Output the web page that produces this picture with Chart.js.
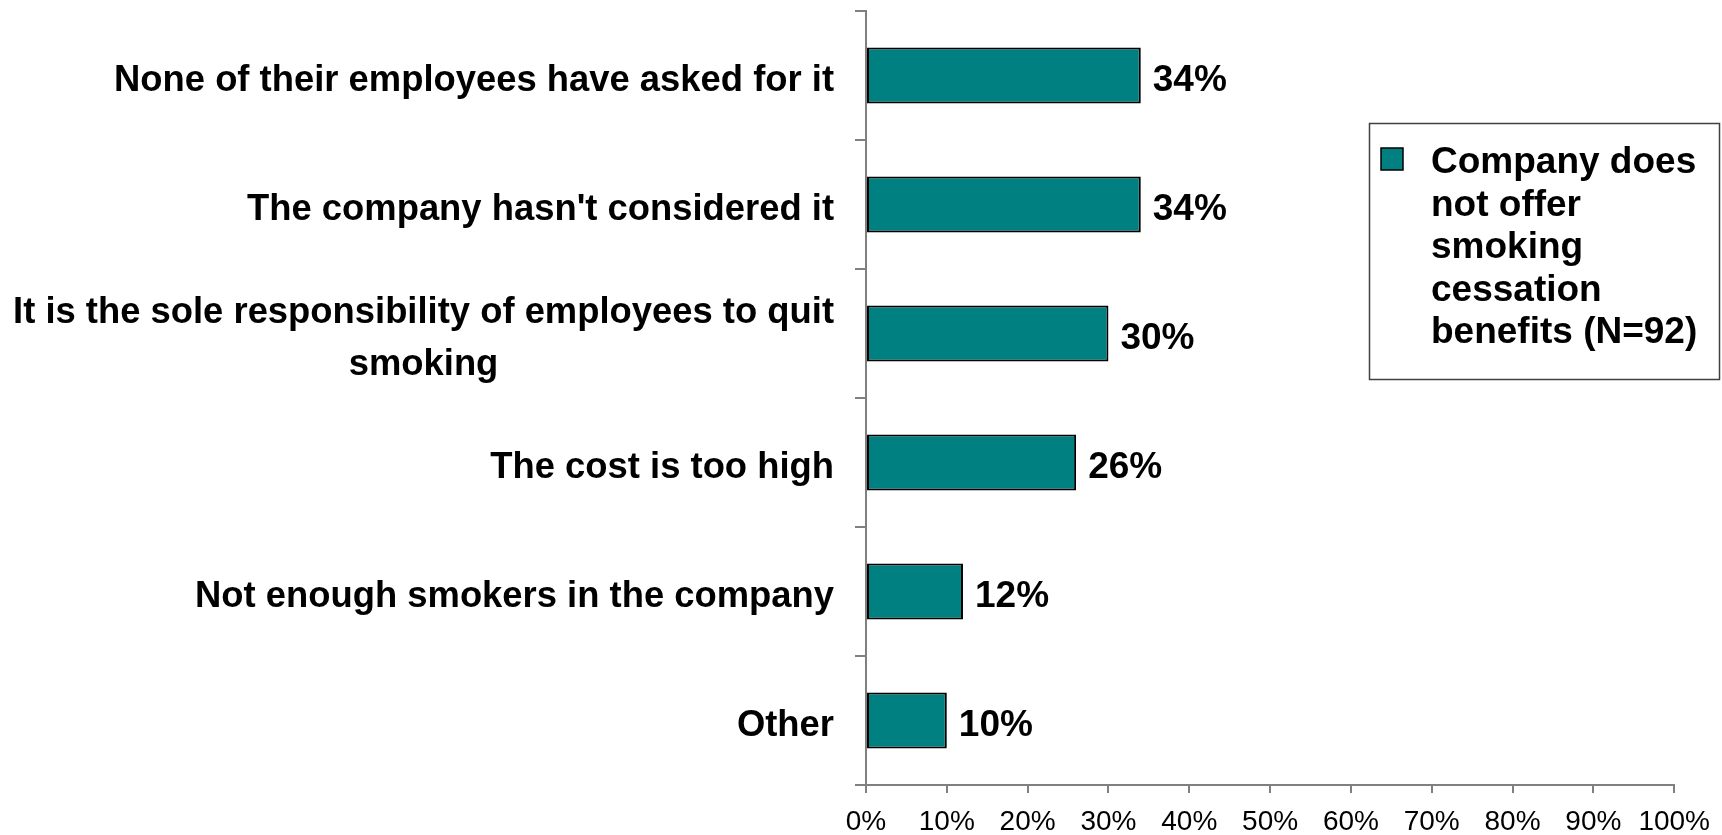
<!DOCTYPE html>
<html>
<head>
<meta charset="utf-8">
<script src="https://cdn.jsdelivr.net/npm/chart.js@4.4.1/dist/chart.umd.min.js"></script>
<style>
  html, body { margin: 0; padding: 0; background: #fff; }
  canvas { display: block; }
</style>
</head>
<body>
<canvas id="myChart" width="1722" height="835"></canvas>
<script>
// reasons given, one entry per bar (arrays = forced line breaks)
const reasons = [
  "None of their employees have asked for it",
  "The company hasn't considered it",
  ["It is the sole responsibility of employees to quit", "smoking"],
  "The cost is too high",
  "Not enough smokers in the company",
  "Other"
];
const percents = [34, 34, 30, 26, 12, 10];
const seriesLabel = "Company does not offer smoking cessation benefits (N=92)";
const xTicks = [0, 10, 20, 30, 40, 50, 60, 70, 80, 90, 100];

const TEAL = "#008080";
const AXIS = "#808080";
const BOLD = "bold 37px 'Liberation Sans', Arial, sans-serif";
const CAT_FONT = "bold 36.4px 'Liberation Sans', Arial, sans-serif";

//////////////////////// CATEGORY LABELS (right block, centred lines) ////////////////////////
const categoryLabels = {
  id: "categoryLabels",
  afterDraw(chart) {
    const ctx = chart.ctx;
    const y = chart.scales.y;
    const right = chart.chartArea.left - 32;
    const lineH = 52;
    ctx.save();
    ctx.font = CAT_FONT;
    ctx.fillStyle = "#000";
    ctx.textBaseline = "middle";
    ctx.textAlign = "center";
    reasons.forEach((r, i) => {
      const lines = Array.isArray(r) ? r : [r];
      const w = Math.max(...lines.map((l) => ctx.measureText(l).width));
      const cx = right - w / 2;
      const cy = y.getPixelForValue(i) + 5;
      lines.forEach((l, k) => {
        ctx.fillText(l, cx, cy + (k - (lines.length - 1) / 2) * lineH);
      });
    });
    ctx.restore();
  }
};

//////////////////////// VALUE LABELS AT BAR ENDS ////////////////////////
const valueLabels = {
  id: "valueLabels",
  afterDatasetsDraw(chart) {
    const ctx = chart.ctx;
    const meta = chart.getDatasetMeta(0);
    ctx.save();
    ctx.font = BOLD;
    ctx.fillStyle = "#000";
    ctx.textBaseline = "middle";
    ctx.textAlign = "left";
    meta.data.forEach((bar, i) => {
      ctx.fillText(chart.data.datasets[0].data[i] + "%", bar.x + 12, bar.y + 5);
    });
    ctx.restore();
  }
};

//////////////////////// BOXED LEGEND INSIDE PLOT ////////////////////////
const boxLegend = {
  id: "boxLegend",
  afterDraw(chart) {
    const ctx = chart.ctx;
    const ds = chart.data.datasets[0];
    const bx = 1369, by = 123, bw = 350, bh = 256;
    ctx.save();
    ctx.fillStyle = "#fff";
    ctx.fillRect(bx, by, bw, bh);
    ctx.strokeStyle = "#404040";
    ctx.lineWidth = 1.5;
    ctx.strokeRect(bx + 0.5, by + 0.5, bw, bh);

    // wrap the series name
    ctx.font = BOLD;
    const words = ds.label.split(" ");
    const lines = [];
    let cur = "";
    words.forEach((w) => {
      const t = cur ? cur + " " + w : w;
      if (ctx.measureText(t).width > 290 && cur) {
        lines.push(cur);
        cur = w;
      } else {
        cur = t;
      }
    });
    lines.push(cur);

    const tx = 1431, ty = 163, lh = 42.5;
    ctx.fillStyle = ds.backgroundColor;
    ctx.fillRect(1381, 148, 22, 22);
    ctx.strokeStyle = "#000";
    ctx.lineWidth = 1.5;
    ctx.strokeRect(1381, 148, 22, 22);

    ctx.fillStyle = "#000";
    ctx.textBaseline = "middle";
    ctx.textAlign = "left";
    lines.forEach((l, k) => ctx.fillText(l, tx, ty + k * lh));
    ctx.restore();
  }
};

const data = {
  labels: reasons,
  datasets: [{
    label: seriesLabel,
    data: percents,
    backgroundColor: TEAL,
    borderColor: "#000",
    borderWidth: 2,
    borderSkipped: false,
    categoryPercentage: 1,
    barPercentage: 0.435
  }]
};

const config = {
  type: "bar",
  data: data,
  options: {
    indexAxis: "y",
    responsive: false,
    animation: false,
    devicePixelRatio: 1,
    layout: { padding: { left: 0, top: 11, right: 44, bottom: 0 } },
    plugins: {
      legend: { display: false },
      tooltip: { enabled: false }
    },
    scales: {
      y: {
        type: "category",
        grid: {
          offset: true,
          drawOnChartArea: false,
          drawTicks: true,
          tickLength: 11,
          color: AXIS,
          lineWidth: 2
        },
        border: { color: AXIS, width: 2 },
        ticks: { display: false },
        afterFit: (s) => { s.width = 866; }
      },
      x: {
        min: xTicks[0],
        max: xTicks[xTicks.length - 1],
        afterBuildTicks: (s) => { s.ticks = xTicks.map((v) => ({ value: v })); },
        grid: {
          drawOnChartArea: false,
          drawTicks: true,
          tickLength: 8,
          color: AXIS,
          lineWidth: 2
        },
        border: { color: AXIS, width: 2 },
        ticks: {
          color: "#000",
          padding: 12,
          maxRotation: 0,
          font: { family: "'Liberation Sans Narrow', 'Arial Narrow', sans-serif", size: 28 },
          callback: (v) => v + "%"
        },
        afterFit: (s) => { s.height = 50; }
      }
    }
  },
  plugins: [categoryLabels, valueLabels, boxLegend]
};

const myChart = new Chart(document.getElementById("myChart"), config);
</script>
</body>
</html>
